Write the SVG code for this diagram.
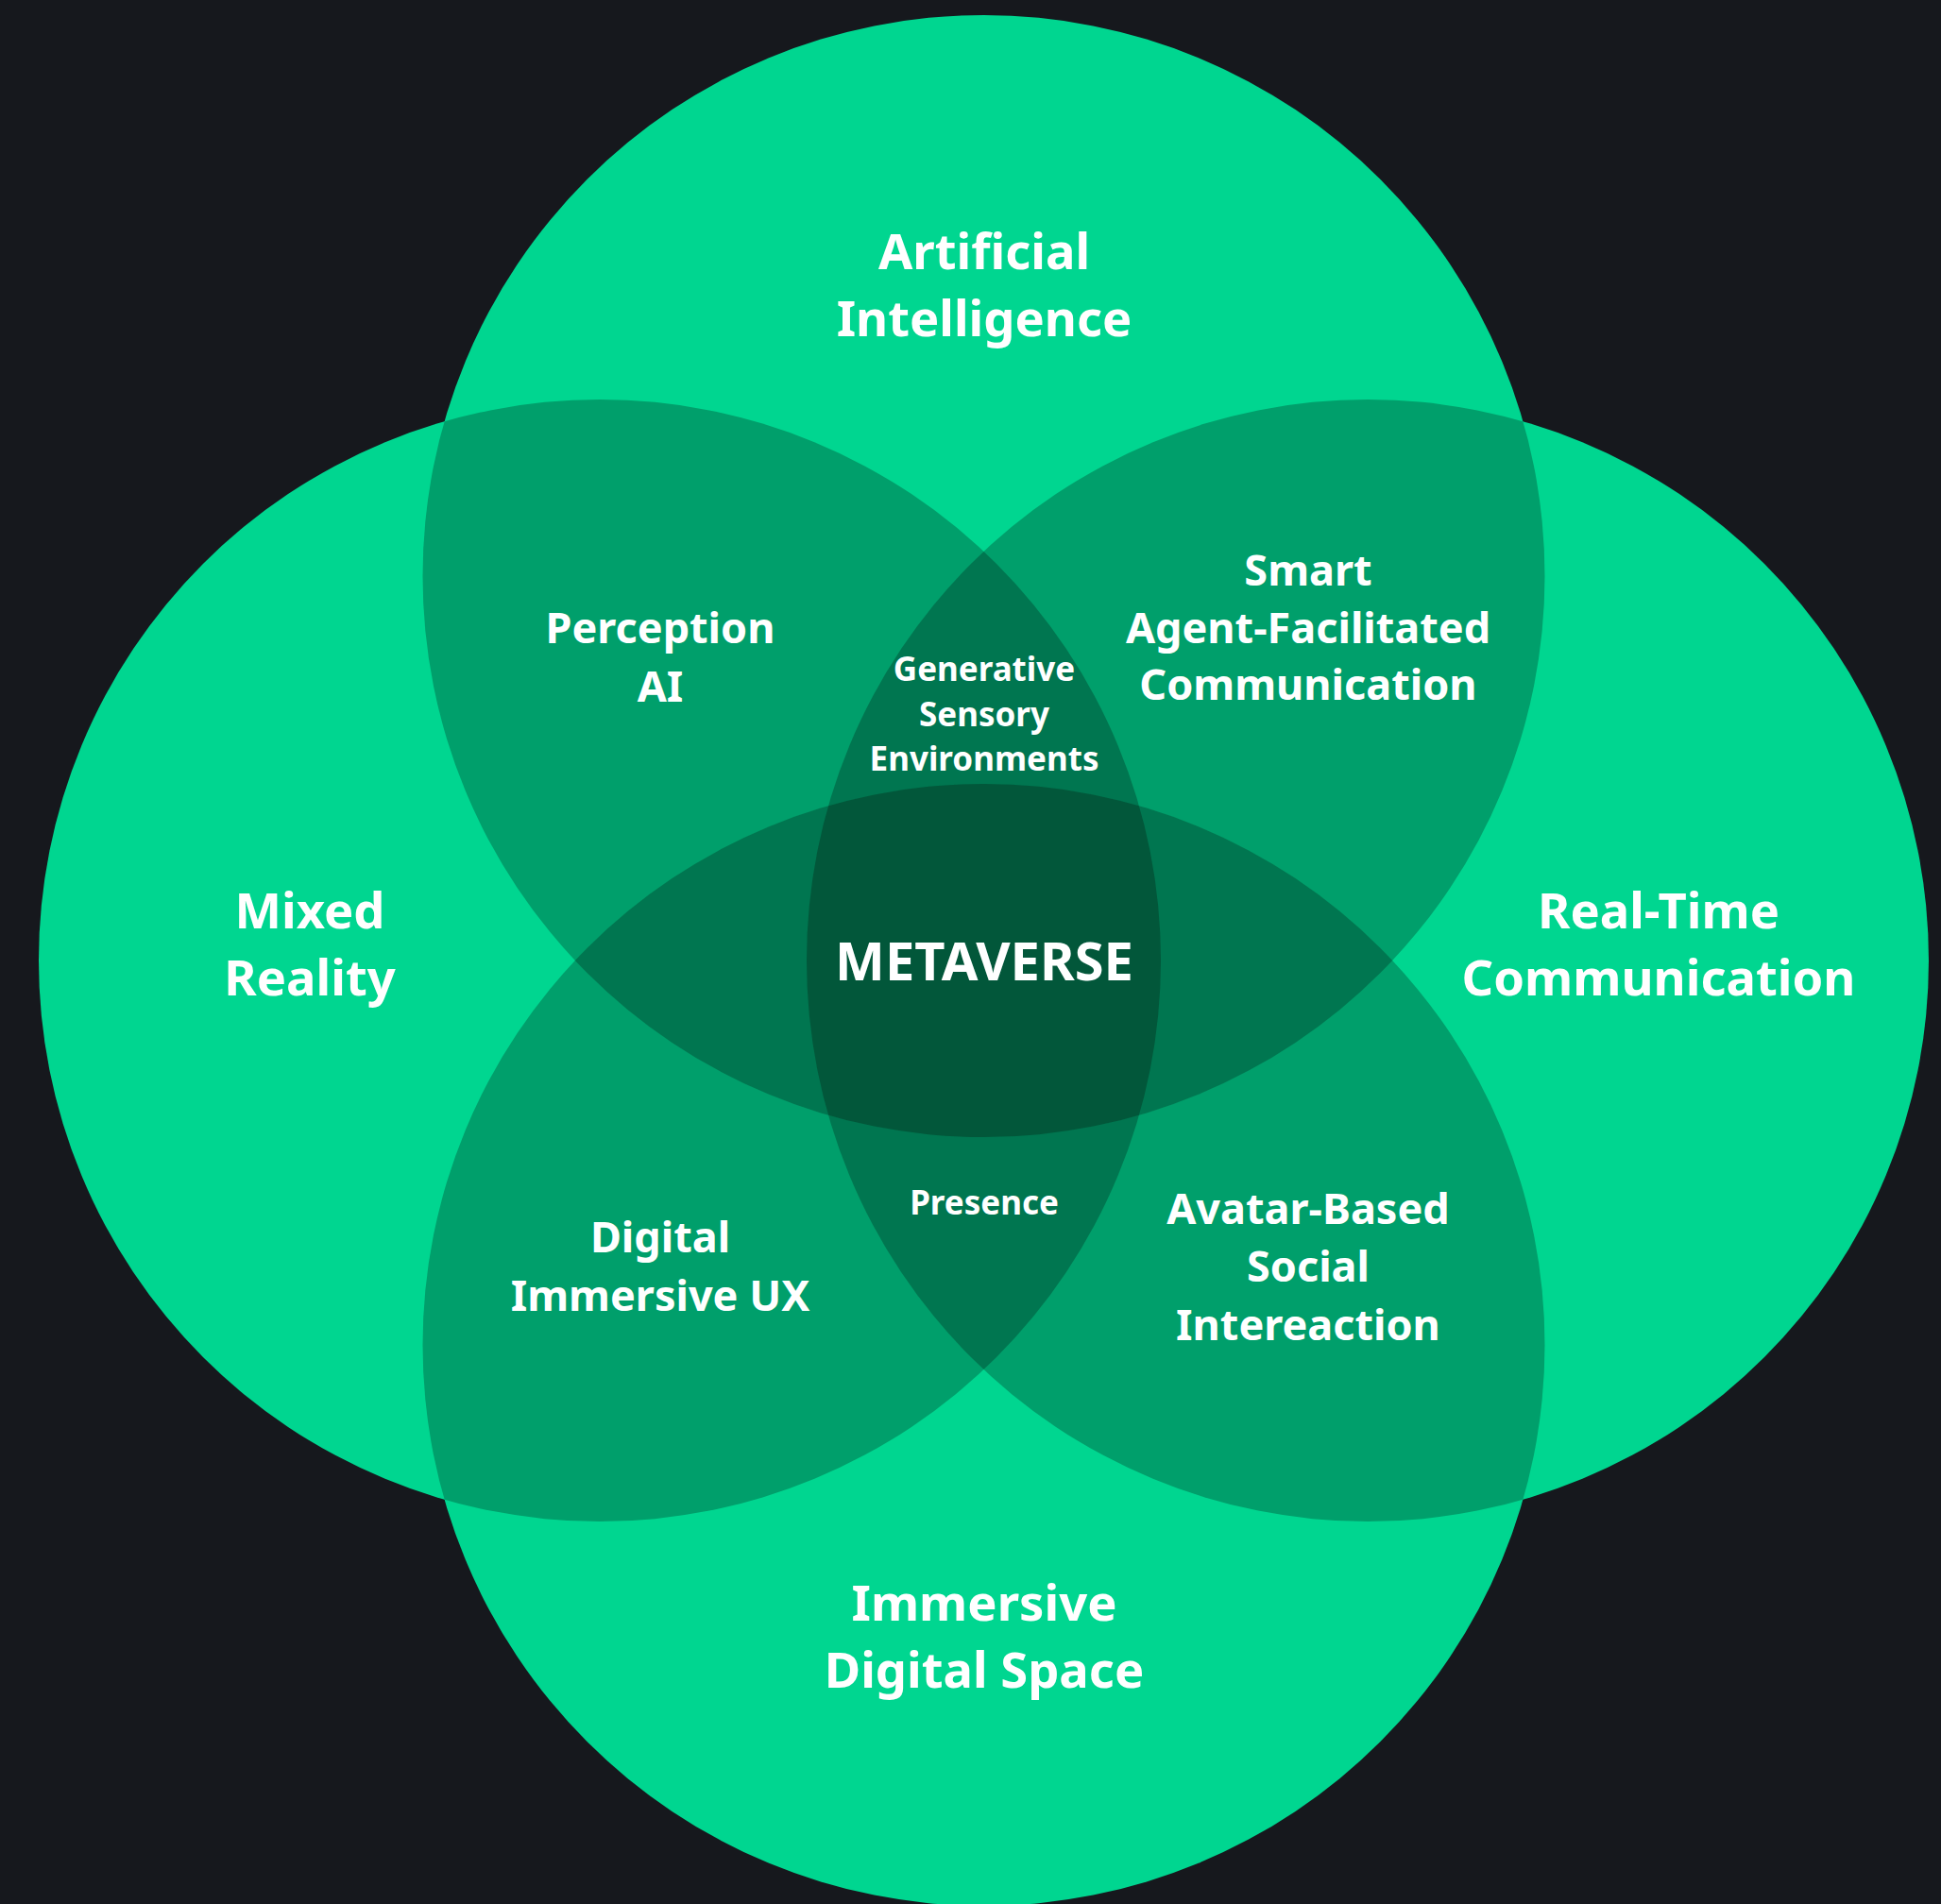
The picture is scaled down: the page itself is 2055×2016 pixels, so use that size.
<svg xmlns="http://www.w3.org/2000/svg" width="2055" height="2016" viewBox="0 0 2055 2016">
<style>
.c1{fill:#00D690}
.c2{fill:#009F6B}
.c3{fill:#007650}
.c4{fill:#02573A}
text{font-family:"Noto Sans","Liberation Sans",sans-serif;font-weight:700;fill:#FFFFFF;text-anchor:middle}
.big{font-size:52.5px}
.mid{font-size:45px}
.sm{font-size:35px}
.meta{font-size:56px}
</style>
<defs>
<circle id="T" cx="1041.5" cy="610" r="594"/>
<circle id="B" cx="1041.5" cy="1424" r="594"/>
<circle id="L" cx="635" cy="1017" r="594"/>
<circle id="R" cx="1448" cy="1017" r="594"/>
<clipPath id="cT"><use href="#T"/></clipPath>
<clipPath id="cB"><use href="#B"/></clipPath>
<clipPath id="cL"><use href="#L"/></clipPath>
<clipPath id="cR"><use href="#R"/></clipPath>
</defs>
<rect width="2055" height="2016" fill="#16181D"/>
<g id="circles">
<use href="#T" class="c1"/>
<use href="#B" class="c1"/>
<use href="#L" class="c1"/>
<use href="#R" class="c1"/>
</g>
<g id="pairs">
<use href="#T" class="c2" clip-path="url(#cL)"/>
<use href="#T" class="c2" clip-path="url(#cR)"/>
<use href="#B" class="c2" clip-path="url(#cL)"/>
<use href="#B" class="c2" clip-path="url(#cR)"/>
<use href="#T" class="c2" clip-path="url(#cB)"/>
<use href="#L" class="c2" clip-path="url(#cR)"/>
</g>
<g id="triples">
<g clip-path="url(#cR)"><use href="#T" class="c3" clip-path="url(#cL)"/></g>
<g clip-path="url(#cR)"><use href="#B" class="c3" clip-path="url(#cL)"/></g>
<g clip-path="url(#cL)"><use href="#T" class="c3" clip-path="url(#cB)"/></g>
<g clip-path="url(#cR)"><use href="#T" class="c3" clip-path="url(#cB)"/></g>
</g>
<g id="quad">
<g clip-path="url(#cR)"><g clip-path="url(#cL)"><use href="#T" class="c4" clip-path="url(#cB)"/></g></g>
</g>
<g id="node-ai"><text class="big" x="1042" y="285">Artificial</text><text class="big" x="1042" y="356">Intelligence</text></g>
<g id="node-mr"><text class="big" x="328" y="983">Mixed</text><text class="big" x="328" y="1054">Reality</text></g>
<g id="node-rtc"><text class="big" x="1756" y="983">Real-Time</text><text class="big" x="1756" y="1054">Communication</text></g>
<g id="node-ids"><text class="big" x="1042" y="1716">Immersive</text><text class="big" x="1042" y="1787">Digital Space</text></g>
<g id="node-pai"><text class="mid" x="699" y="681">Perception</text><text class="mid" x="699" y="743">AI</text></g>
<g id="node-safc"><text class="mid" x="1385" y="620">Smart</text><text class="mid" x="1385" y="681">Agent-Facilitated</text><text class="mid" x="1385" y="741">Communication</text></g>
<g id="node-dix"><text class="mid" x="699" y="1326">Digital</text><text class="mid" x="699" y="1388">Immersive UX</text></g>
<g id="node-abs"><text class="mid" x="1385" y="1296">Avatar-Based</text><text class="mid" x="1385" y="1357">Social</text><text class="mid" x="1385" y="1419">Intereaction</text></g>
<g id="node-gse"><text class="sm" x="1042" y="721">Generative</text><text class="sm" x="1042" y="769">Sensory</text><text class="sm" x="1042" y="816">Environments</text></g>
<g id="node-presence"><text class="sm" x="1042" y="1286">Presence</text></g>
<g id="node-meta"><text class="meta" x="1042" y="1038">METAVERSE</text></g>
</svg>
